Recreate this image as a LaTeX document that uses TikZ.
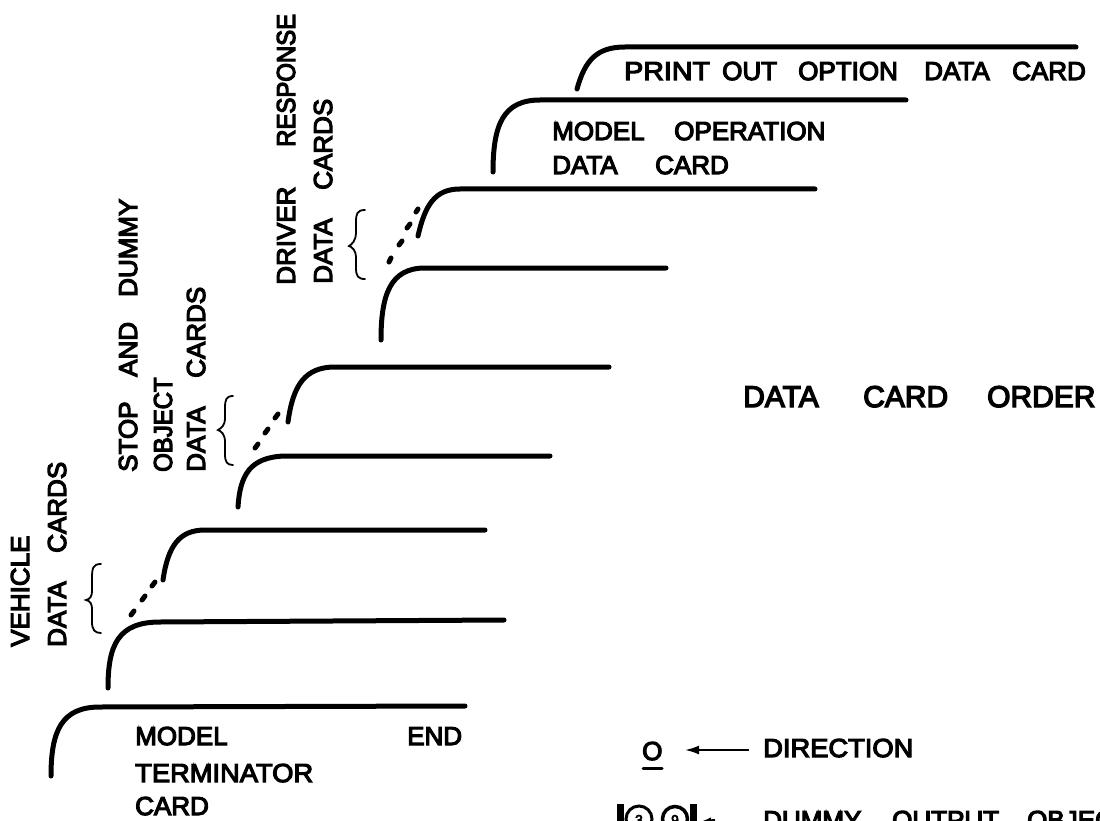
\documentclass[tikz,border=0pt]{standalone}
\usepackage{fontspec}
\setmainfont[FakeBold=4.5]{Liberation Sans}
\newfontfamily\narrowface[FakeBold=4.5,FakeStretch=0.92]{Liberation Sans}
\newfontfamily\wideface[FakeBold=4.5,FakeStretch=1.05]{Liberation Sans}
\newfontfamily\widerface[FakeBold=4.5,FakeStretch=1.1]{Liberation Sans}
\usetikzlibrary{arrows.meta}
\newcommand{\wordat}[2]{\makebox[#1pt][l]{#2}}
\tikzset{
 card/.style={line width=5pt,line cap=round,line join=round},
 dots/.style={line width=5pt,line cap=round},
 brace/.style={line width=1.8pt,line cap=round},
 lab/.style={inner sep=0pt,font=\fontsize{26pt}{30pt}\selectfont,anchor=base west},
 vlab/.style={lab,rotate=90},
 smallnum/.style={inner sep=0pt,font=\fontsize{14pt}{15pt}\selectfont},
}
\begin{document}
\begin{tikzpicture}[x=1pt,y=-1pt]
\useasboundingbox (0,0) rectangle (1100,821);
\clip (0,0) rectangle (1100,821);
% cards
\draw[card] (51,776) .. controls (51,730) and (62,707) .. (100,707) -- (465,706);
\draw[card] (108,688) .. controls (108,645) and (118,622) .. (160,622) -- (504,620);
\draw[card] (163,580) .. controls (168,545) and (180,530) .. (205,530) -- (485,530);
\draw[card] (238,507) .. controls (240,475) and (250,457) .. (285,456) -- (550,456);
\draw[card] (288,422) .. controls (293,385) and (305,367) .. (335,367) -- (609,367);
\draw[card] (381,340) .. controls (381,295) and (390,268) .. (425,268) -- (666,268);
\draw[card] (418,236) .. controls (425,205) and (435,189) .. (460,189) -- (815,189);
\draw[card] (493,172) .. controls (493,125) and (503,100) .. (540,100) -- (906,100);
\draw[card] (577,89) .. controls (585,60) and (597,47) .. (625,47) -- (1076,47);
% dotted continuations
\draw[dots] (131,615) -- (134,611) (142,600) -- (145,596) (152,586) -- (155,582);
\draw[dots] (255,448) -- (258,444) (265,433) -- (268,429) (275,418) -- (278,414);
\draw[dots] (389,262) -- (391,258) (399,245) -- (402,241) (407,228) -- (410,224) (416,212) -- (418,209);
% braces
\draw[brace] (101,564) .. controls (93,564) and (92,568) .. (92,578) -- (92,590) .. controls (92,597) and (90,599) .. (86,600) .. controls (90,601) and (92,603) .. (92,610) -- (92,622) .. controls (92,630) and (95,633) .. (101,633);
\draw[brace] (233,396) .. controls (226,396) and (225,400) .. (225,408) -- (225,418) .. controls (225,426) and (221,428) .. (218,430) .. controls (221,431) and (225,434) .. (225,442) -- (225,454) .. controls (225,462) and (227,465) .. (233,465);
\draw[brace] (365,210) .. controls (357,210) and (356,214) .. (356,222) -- (356,232) .. controls (356,241) and (352,244) .. (349,246) .. controls (352,247) and (356,250) .. (356,258) -- (356,268) .. controls (356,276) and (358,279) .. (365,279);
% vertical labels
\node[vlab] (veh) at (29,647) {VEHICLE};
\node[vlab] (vehb) at (66,647) {\wordat{94}{DATA}CARDS};
\node[vlab] (stop) at (137,472) {\wordat{95}{STOP}\wordat{80}{AND}DUMMY};
\node[vlab] (stopb) at (172,472) {\narrowface OBJECT};
\node[vlab] (stopc) at (205,472) {\wordat{94}{DATA}CARDS};
\node[vlab] (driv) at (295,285) {\wordat{138}{DRIVER}{\narrowface RESPONSE}};
\node[vlab] (drivb) at (332,284) {\wordat{94}{DATA}CARDS};
% horizontal labels
\node[lab] (print) at (624,80) {\wordat{98}{\widerface PRINT}\wordat{76}{OUT}\wordat{126}{OPTION}\wordat{88}{DATA}CARD};
\node[lab] (model) at (552,140) {\wordat{122}{MODEL}OPERATION};
\node[lab] (model2) at (552,174) {\wordat{103}{DATA}CARD};
\node[lab,font=\fontsize{30pt}{34pt}\selectfont] (order) at (743,407) {\wordat{120}{DATA}\wordat{124}{CARD}ORDER};
\node[lab] (mt1) at (135,745) {MODEL};
\node[lab] (mt2) at (135,782) {\wideface TERMINATOR};
\node[lab] (mt3) at (135,815) {CARD};
\node[lab] (end) at (407,745) {END};
\node[lab] (dir) at (763,757) {\wideface DIRECTION};
\node[lab] (dum) at (763,829) {\wordat{129}{DUMMY}\wordat{135}{OUTPUT}OBJECT};
% direction legend
\node[lab] (o) at (642,760) {O};
\draw[line width=3pt,line cap=round] (643,768) -- (662,768);
\coordinate (dirend) at (749,750);
\coordinate (dirtip) at (685,750);
\draw[line width=2pt,-{Latex[length=14pt,width=9pt]}] (dirend) -- (dirtip);
% dummy output object symbol
\draw[line width=3pt] (639,819) circle (13);
\draw[line width=3.5pt] (675,819) circle (12.5);
\fill (617,804) rectangle (624,821);
\fill (690,804) rectangle (697,821);
\node[smallnum] (three) at (639,820) {3};
\node[smallnum] (nine) at (675,820) {9};
\coordinate (smallend) at (715,820);
\coordinate (smalltip) at (702,821);
\draw[line width=2pt,-{Latex[length=9pt,width=6pt]}] (smallend) -- (smalltip);
\end{tikzpicture}
\end{document}
